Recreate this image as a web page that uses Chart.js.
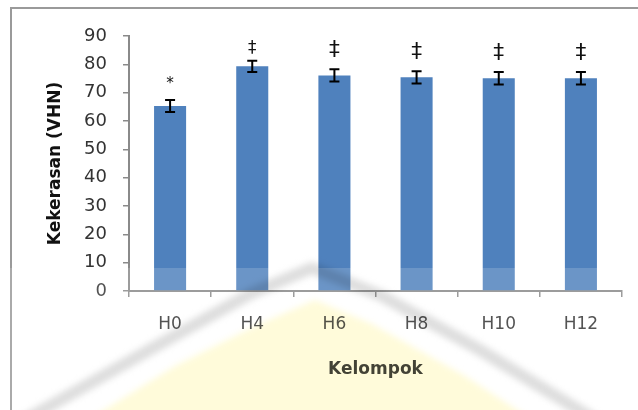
<!DOCTYPE html>
<html>
<head>
<meta charset="utf-8">
<script src="https://cdn.jsdelivr.net/npm/chart.js@4/dist/chart.umd.min.js"></script>
<style>
  html, body { margin: 0; padding: 0; background: #fff; }
  canvas { display: block; }
</style>
</head>
<body>
<canvas id="chart" width="638" height="410"></canvas>
<script>
// Vickers hardness per group (mean and standard deviation)
const categories = ['H0', 'H4', 'H6', 'H8', 'H10', 'H12'];
const hardness   = [65.3, 79.3, 76.1, 75.4, 75.1, 75.1];
const hardnessSD = [2.1, 2.0, 2.2, 2.2, 2.2, 2.2];
const marks      = ['*', '\u2021', '\u2021', '\u2021', '\u2021', '\u2021'];
const yTickValues = [0, 10, 20, 30, 40, 50, 60, 70, 80, 90];

const FONT = "'DejaVu Sans', sans-serif";
const AXIS_GREY = '#8a8a8a';

// glyph height (px) and lift above the upper whisker for each mark
const markGlyphHeight = [7, 14, 18, 18, 18, 18];
const markLift        = [20, 14, 20, 20, 20, 20];

// white page with a grey frame around the figure
const framePlugin = {
  id: 'frame',
  beforeDraw(chart) {
    const ctx = chart.ctx;
    ctx.save();
    ctx.fillStyle = '#ffffff';
    ctx.fillRect(0, 0, chart.width, chart.height);
    ctx.strokeStyle = '#9a9a9a';
    ctx.lineWidth = 2;
    ctx.strokeRect(11, 8, chart.width + 20, chart.height + 20);
    ctx.restore();
  }
};

// error bars and significance marks on top of each bar
const errorBarPlugin = {
  id: 'errorBars',
  afterDatasetsDraw(chart) {
    const ctx = chart.ctx;
    const y = chart.scales.y;
    const meta = chart.getDatasetMeta(0);
    ctx.save();
    ctx.strokeStyle = '#000';
    ctx.lineWidth = 2;
    meta.data.forEach((bar, i) => {
      const x = bar.x;
      const top = y.getPixelForValue(hardness[i] + hardnessSD[i]);
      const bot = y.getPixelForValue(hardness[i] - hardnessSD[i]);
      const cap = 5;
      ctx.beginPath();
      ctx.moveTo(x, top); ctx.lineTo(x, bot);
      ctx.moveTo(x - cap, top); ctx.lineTo(x + cap, top);
      ctx.moveTo(x - cap, bot); ctx.lineTo(x + cap, bot);
      ctx.stroke();

      // size the mark by its inked height, then centre it above the whisker
      const m = marks[i];
      ctx.font = '100px ' + FONT;
      const ref = ctx.measureText(m);
      const refH = ref.actualBoundingBoxAscent + ref.actualBoundingBoxDescent;
      const size = 100 * markGlyphHeight[i] / refH;
      ctx.font = size.toFixed(2) + 'px ' + FONT;
      ctx.fillStyle = '#111';
      ctx.textAlign = 'center';
      ctx.textBaseline = 'alphabetic';
      const tm = ctx.measureText(m);
      const gh = tm.actualBoundingBoxAscent + tm.actualBoundingBoxDescent;
      const centre = top - markLift[i];
      ctx.fillText(m, x, centre + gh / 2 - tm.actualBoundingBoxDescent);
    });
    ctx.restore();
  }
};

// faint emblem watermark across the lower part of the figure
const watermarkPlugin = {
  id: 'watermark',
  afterDraw(chart) {
    const ctx = chart.ctx;
    ctx.save();
    // light wash over the lower band
    ctx.fillStyle = 'rgba(255,255,255,0.16)';
    ctx.fillRect(0, 268, chart.width, chart.height - 268);

    ctx.globalCompositeOperation = 'multiply';
    ctx.filter = 'blur(3px)';
    // pale yellow inner field
    ctx.fillStyle = 'rgb(255,251,218)';
    ctx.beginPath();
    ctx.moveTo(80, 425);
    ctx.lineTo(175, 366);
    ctx.lineTo(255, 326);
    ctx.lineTo(315, 300);
    ctx.lineTo(372, 324);
    ctx.lineTo(465, 376);
    ctx.lineTo(540, 425);
    ctx.closePath();
    ctx.fill();

    // grey arch stroke
    ctx.strokeStyle = 'rgb(222,222,222)';
    ctx.lineWidth = 12;
    ctx.lineJoin = 'round';
    ctx.beginPath();
    ctx.moveTo(25, 420);
    ctx.lineTo(160, 344);
    ctx.lineTo(250, 294);
    ctx.lineTo(312, 268);
    ctx.lineTo(382, 296);
    ctx.lineTo(480, 350);
    ctx.lineTo(595, 420);
    ctx.stroke();
    ctx.restore();
  }
};

new Chart(document.getElementById('chart'), {
  type: 'bar',
  data: {
    labels: categories,
    datasets: [{
      data: hardness,
      backgroundColor: '#4F81BD',
      borderWidth: 0,
      barPercentage: 0.39,
      categoryPercentage: 1.0
    }]
  },
  options: {
    responsive: false,
    animation: false,
    devicePixelRatio: 1,
    layout: { padding: { top: 36, right: 16, bottom: 0, left: 0 } },
    plugins: {
      legend: { display: false },
      tooltip: { enabled: false }
    },
    scales: {
      x: {
        grid: { drawOnChartArea: false, drawTicks: true, tickLength: 6, color: AXIS_GREY, lineWidth: 1.5 },
        border: { color: AXIS_GREY, width: 2 },
        ticks: { font: { family: FONT, size: 17 }, color: '#333', padding: 17 },
        title: {
          display: true, text: 'Kelompok', color: '#1f1f1a',
          font: { family: FONT, size: 17, weight: 'bold' },
          padding: { top: 0, bottom: 30 }
        },
        afterFit(scale) { scale.height = 119; }
      },
      y: {
        min: 0, max: 90,
        afterBuildTicks(scale) { scale.ticks = yTickValues.map(v => ({ value: v })); },
        grid: { drawOnChartArea: false, drawTicks: true, tickLength: 6, color: AXIS_GREY, lineWidth: 1.5 },
        border: { color: AXIS_GREY, width: 2 },
        ticks: { font: { family: FONT, size: 18 }, color: '#333', padding: 16 },
        title: {
          display: true, text: 'Kekerasan (VHN)', color: '#111',
          font: { family: FONT, size: 17, weight: 'bold' },
          padding: { top: 45, bottom: 0 }
        },
        afterFit(scale) { scale.width = 129; }
      }
    }
  },
  plugins: [framePlugin, errorBarPlugin, watermarkPlugin]
});
</script>
</body>
</html>
